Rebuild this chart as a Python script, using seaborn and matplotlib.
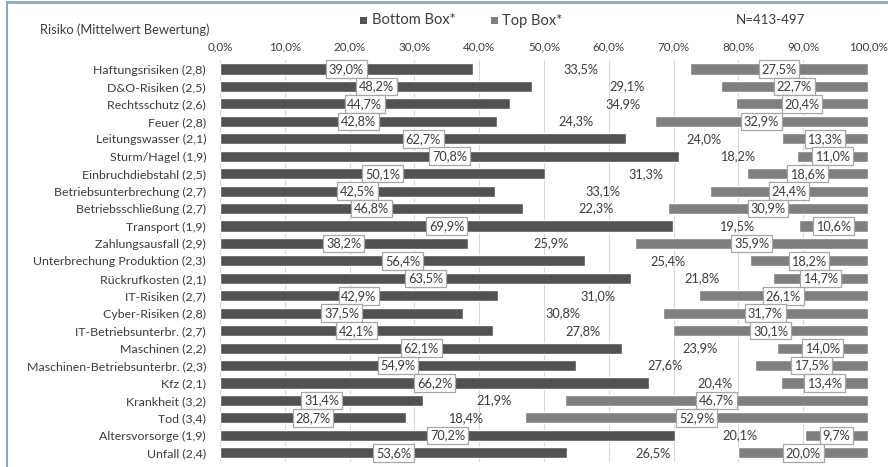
import matplotlib
matplotlib.use("Agg")
import matplotlib.pyplot as plt
import seaborn as sns
import pandas as pd
from matplotlib.lines import Line2D
from matplotlib.patches import Rectangle

categories = [
    "Haftungsrisiken (2,8)", "D&O-Risiken (2,5)", "Rechtsschutz (2,6)", "Feuer (2,8)",
    "Leitungswasser (2,1)", "Sturm/Hagel (1,9)", "Einbruchdiebstahl (2,5)",
    "Betriebsunterbrechung (2,7)", "Betriebsschließung (2,7)", "Transport (1,9)",
    "Zahlungsausfall (2,9)", "Unterbrechung Produktion (2,3)", "Rückrufkosten (2,1)",
    "IT-Risiken (2,7)", "Cyber-Risiken (2,8)", "IT-Betriebsunterbr. (2,7)",
    "Maschinen (2,2)", "Maschinen-Betriebsunterbr. (2,3)", "Kfz (2,1)",
    "Krankheit (3,2)", "Tod (3,4)", "Altersvorsorge (1,9)", "Unfall (2,4)",
]
bottom_box = [39.0, 48.2, 44.7, 42.8, 62.7, 70.8, 50.1, 42.5, 46.8, 69.9, 38.2, 56.4,
              63.5, 42.9, 37.5, 42.1, 62.1, 54.9, 66.2, 31.4, 28.7, 70.2, 53.6]
middle = [33.5, 29.1, 34.9, 24.3, 24.0, 18.2, 31.3, 33.1, 22.3, 19.5, 25.9, 25.4,
          21.8, 31.0, 30.8, 27.8, 23.9, 27.6, 20.4, 21.9, 18.4, 20.1, 26.5]
top_box = [27.5, 22.7, 20.4, 32.9, 13.3, 11.0, 18.6, 24.4, 30.9, 10.6, 35.9, 18.2,
           14.7, 26.1, 31.7, 30.1, 14.0, 17.5, 13.4, 46.7, 52.9, 9.7, 20.0]
x_ticks = [0, 10, 20, 30, 40, 50, 60, 70, 80, 90, 100]

sns.set_theme(style="white")
plt.rcParams["font.family"] = ["Lato", "DejaVu Sans"]

C_BOTTOM = "#525252"
C_TOP = "#7f7f7f"
TXT = "#3c3c3c"

df = pd.DataFrame({"cat": categories, "bottom": bottom_box, "mid": middle, "top": top_box})
df["top_left"] = 100 - df["top"]

fig = plt.figure(figsize=(8.88, 4.67), dpi=100)
ax = fig.add_axes([220 / 888, 1 - 461.5 / 467, 648 / 888, (461.5 - 60.3) / 467])

ax.set_axisbelow(True)
ax.grid(axis="x", color="#d9d9d9", linewidth=0.8)
ax.grid(axis="y", visible=False)

sns.barplot(data=df, x="bottom", y="cat", orient="h", color=C_BOTTOM, width=0.64,
            saturation=1, ax=ax, zorder=2)
ypos = list(range(len(categories)))
ax.barh(ypos, df["top"], left=df["top_left"], height=0.64, color=C_TOP, zorder=2)

box = dict(boxstyle="square,pad=0.22", facecolor="white", edgecolor="#a6a6a6", linewidth=0.9)
VFS = 9.2
for i in ypos:
    b, m, t = bottom_box[i], middle[i], top_box[i]
    ax.text(b / 2, i, f"{b:.1f}%".replace(".", ","), ha="center", va="center",
            fontsize=VFS, color=TXT, bbox=box, zorder=4)
    ax.text(b + m / 2, i, f"{m:.1f}%".replace(".", ","), ha="center", va="center",
            fontsize=VFS, color=TXT, zorder=4)
    ax.text(100 - t / 2, i, f"{t:.1f}%".replace(".", ","), ha="center", va="center",
            fontsize=VFS, color=TXT, bbox=box, zorder=4)

ax.set_xlim(0, 100)
ax.set_ylim(len(categories) - 0.5, -0.5)
ax.set_xticks(x_ticks)
ax.set_xticklabels([f"{v:.1f}%".replace(".", ",") for v in x_ticks])
ax.xaxis.tick_top()
ax.tick_params(axis="x", length=0, pad=6, labelsize=8.4, labelcolor=TXT)
ax.tick_params(axis="y", length=0, pad=10, labelsize=8.9, labelcolor=TXT)
ax.set_xlabel("")
ax.set_ylabel("")
for s in ax.spines.values():
    s.set_visible(False)

# header texts
fig.text(40 / 888, 1 - 30 / 467, "Risiko (Mittelwert Bewertung)", fontsize=9.3,
         color=TXT, ha="left", va="center")
fig.patches.append(Rectangle((360 / 888, 1 - 24 / 467), 7 / 888, 7 / 467,
                             transform=fig.transFigure, facecolor=C_BOTTOM, edgecolor="none"))
fig.text(372 / 888, 1 - 20.5 / 467, "Bottom Box*", fontsize=10.5, color=TXT,
         ha="left", va="center")
fig.patches.append(Rectangle((491 / 888, 1 - 24 / 467), 7 / 888, 7 / 467,
                             transform=fig.transFigure, facecolor=C_TOP, edgecolor="none"))
fig.text(502 / 888, 1 - 20.5 / 467, "Top Box*", fontsize=10.5, color=TXT,
         ha="left", va="center")
fig.text(770 / 888, 1 - 20.5 / 467, "N=413-497", fontsize=9.5, color=TXT,
         ha="center", va="center")

# frame lines
fig.add_artist(Line2D([7 / 888, 1], [1 - 1.5 / 467, 1 - 1.5 / 467], transform=fig.transFigure,
                      color="#8ea7bd", linewidth=2))
fig.add_artist(Line2D([7 / 888, 7 / 888], [0, 1 - 1.5 / 467], transform=fig.transFigure,
                      color="#8ea7bd", linewidth=1.5))

fig.savefig("out.png", dpi=100)
